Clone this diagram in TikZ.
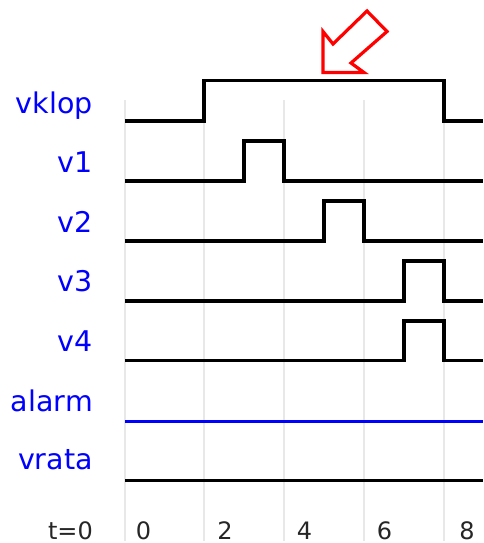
\documentclass[tikz,border=0pt]{standalone}
\usepackage{fontspec}
\setmainfont{DejaVu Sans}
\begin{document}
\begin{tikzpicture}[x=1pt,y=-1pt,
  sigline/.style={line width=3.4pt,black,line join=miter},
  alarmline/.style={line width=3.2pt,blue},
  gridline/.style={line width=2.2pt,black!9},
  siglabel/.style={anchor=base east,inner sep=0pt,text=blue,font=\fontsize{28.5}{34}\selectfont},
  ticklabel/.style={anchor=base,inner sep=0pt,text=black!85,font=\fontsize{24}{28}\selectfont},
  marker/.style={line width=3.2pt,red,line join=miter}]
\useasboundingbox (0,0) rectangle (483,543);
% time grid (t = 0,2,4,6,8)
\foreach \gx in {125,204,284,364,444}
  \draw[gridline] (\gx,100) -- (\gx,541);
% signal names
\node[siglabel] (lvklop) at (93,113) {vklop};
\node[siglabel] (lv1)    at (93,172) {v1};
\node[siglabel] (lv2)    at (93,232) {v2};
\node[siglabel] (lv3)    at (93,291) {v3};
\node[siglabel] (lv4)    at (93,351) {v4};
\node[siglabel] (lalarm) at (93,411) {alarm};
\node[siglabel] (lvrata) at (93,469) {vrata};
% waveforms
\draw[sigline] (125,121) -- (204,121) -- (204,80.5) -- (444,80.5) -- (444,121) -- (483,121);
\draw[sigline] (125,181) -- (244,181) -- (244,141) -- (284,141) -- (284,181) -- (483,181);
\draw[sigline] (125,241) -- (324,241) -- (324,201) -- (364,201) -- (364,241) -- (483,241);
\draw[sigline] (125,301) -- (404,301) -- (404,261) -- (444,261) -- (444,301) -- (483,301);
\draw[sigline] (125,360.5) -- (404,360.5) -- (404,321) -- (444,321) -- (444,360.5) -- (483,360.5);
\draw[alarmline] (125,421.5) -- (483,421.5);
\draw[sigline] (125,480.5) -- (483,480.5);
% time axis
\node[ticklabel,anchor=base east] (tzero) at (93,539) {t=0};
\node[ticklabel] (t0) at (143.5,539) {0};
\node[ticklabel] (t2) at (225,539) {2};
\node[ticklabel] (t4) at (304.5,539) {4};
\node[ticklabel] (t6) at (384.5,539) {6};
\node[ticklabel] (t8) at (467,539) {8};
% red pointer arrow
\draw[marker] (323,72.5) -- (323,31.5) -- (333,44) -- (367,11) -- (387,31.5) -- (351,63) -- (364,72.5) -- cycle;
\end{tikzpicture}
\end{document}
